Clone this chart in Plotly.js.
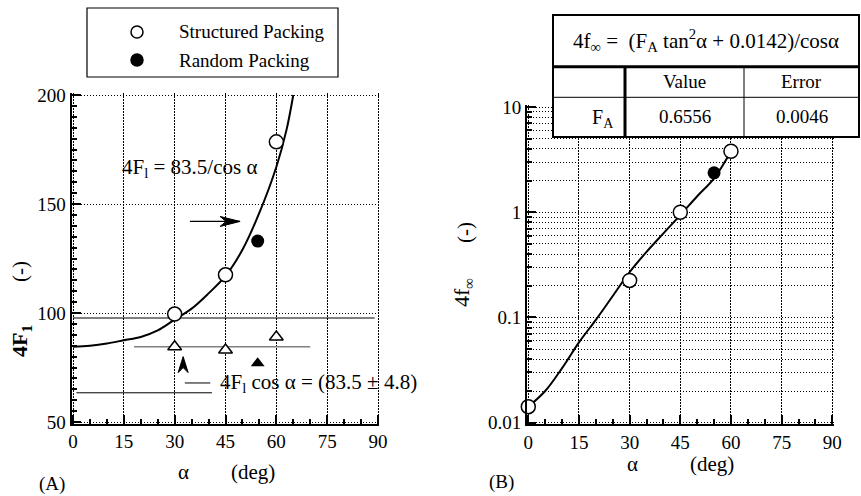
<!DOCTYPE html>
<html>
<head>
<meta charset="utf-8">
<script src="https://cdn.plot.ly/plotly-3.0.1.min.js"></script>
<style>html,body{margin:0;padding:0;background:#fff;}#chart{width:861px;height:496px;}</style>
</head>
<body>
<div id="chart"></div>
<script>
// ---------- DATA ----------
// Panel A : 4F1 vs alpha
const structAlpha = [30, 45, 60];
const structF1 = [99.5, 117.5, 178.5];
const randomAlpha = [54.5];
const randomF1 = [133];
const triOpenAlpha = [30, 45, 60];
const triOpenF1 = [84.5, 83, 89];
const triFilledAlpha = [54.5];
const triFilledF1 = [77];
const fitAAlpha = [0, 5, 10, 15, 20, 25, 30, 35, 40, 45, 50, 55, 60, 63, 65];
const fitAF1 = [84.5, 85, 86, 87.5, 89, 92, 97, 102, 109, 117, 129, 146, 167, 184, 200];
const meanLineAlpha = [18, 70];
const meanLineF1 = [84.5, 84.5];
const upperLineAlpha = [0, 89];
const upperLineF1 = [97.7, 97.7];
const lowerLineAlpha = [1, 41];
const lowerLineF1 = [63.4, 63.4];
const keyLineAlpha = [33, 40.5];
const keyLineF1 = [67.9, 67.9];
const hArrowAlpha = [34.5, 49.3];
const hArrowF1 = [142, 142];
const upArrowAlpha = [32.5];
const upArrowF1 = [80];

// Panel B : 4f_inf vs alpha
const bStructAlpha = [0, 30, 45, 60];
const bStructF = [0.0142, 0.225, 1.0, 3.8];
const bRandomAlpha = [55];
const bRandomF = [2.37];
const fitBAlpha = [0, 5, 10, 15, 20, 25, 30, 35, 40, 45, 50, 55, 60];
const fitBF = [0.0142, 0.02, 0.033, 0.058, 0.095, 0.16, 0.27, 0.42, 0.63, 0.94, 1.42, 2.1, 3.8];

// Tick labels
const xTickVals = [0, 15, 30, 45, 60, 75, 90];
const xTickText = ['0', '15', '30', '45', '60', '75', '90'];
const xMinorVals = [5, 10, 20, 25, 35, 40, 50, 55, 65, 70, 80, 85];
const yATickVals = [50, 100, 150, 200];
const yATickText = ['50', '100', '150', '200'];
const yAMinorVals = [55, 60, 65, 70, 75, 80, 85, 90, 95, 105, 110, 115, 120, 125, 130, 135, 140, 145, 155, 160, 165, 170, 175, 180, 185, 190, 195];
const yBTickVals = [0.01, 0.1, 1, 10];
const yBTickText = ['0.01', '0.1', '1', '10'];
const yBMinorVals = [0.02,0.03,0.04,0.05,0.06,0.07,0.08,0.09,0.2,0.3,0.4,0.5,0.6,0.7,0.8,0.9,2,3,4,5,6,7,8,9];

// Legend / table text
const legendNames = ['Structured Packing', 'Random Packing'];
const tableFormula = '4f<sub>∞</sub> =  (F<sub>A</sub> tan<sup>2</sup>α + 0.0142)/cosα';
const tableHeaders = ['Value', 'Error'];
const tableParam = 'F<sub>A</sub>';
const tableValues = ['0.6556', '0.0046'];

// ---------- LAYOUT HELPERS ----------
const W = 861, H = 496;
const px = v => v / W;
const py = v => 1 - v / H;
const SERIF = "'Liberation Serif', 'Times New Roman', 'DejaVu Serif', serif";
const F = (size) => ({family: SERIF, size: size, color: 'black'});
const tickFont = F(19);
const annFont = F(21);
const gridDash = '1.5px,1.5px';

// map a value range placed at given pixel ends, padded slightly so end grid lines / ticks are kept
function linAxisGeom(v0, v1, p0, p1, pad) {
  const s = (p1 - p0) / (v1 - v0);
  return {range: [v0 - pad, v1 + pad], pix: [p0 - pad * s, p1 + pad * s]};
}
const gA_x = linAxisGeom(0, 90, 73, 378, 0.4);
const gA_y = linAxisGeom(50, 200, 422, 95, 0.7);       // pixels downward
const gB_x = linAxisGeom(0, 90, 528.3, 832.3, 0.4);
const gB_y = linAxisGeom(-2, 1, 422.7, 107, 0.015);

function xAxis(g) {
  return {
    domain: [g.pix[0] / W, g.pix[1] / W], range: g.range,
    tickmode: 'array', tickvals: xTickVals, ticktext: xTickText,
    ticks: 'inside', ticklen: 9, tickwidth: 2, tickcolor: 'black',
    showline: true, linecolor: 'black', linewidth: 2,
    showgrid: true, gridcolor: 'black', gridwidth: 1, griddash: gridDash,
    zeroline: false, tickfont: tickFont, fixedrange: true,
    minor: {tickmode: 'array', tickvals: xMinorVals, ticks: 'inside', ticklen: 5, tickwidth: 2, tickcolor: 'black', showgrid: false}
  };
}

const traces = [];
function sc(x, y, xa, ya, extra) {
  traces.push(Object.assign({x: x, y: y, xaxis: xa, yaxis: ya, type: 'scatter', showlegend: false, hoverinfo: 'skip', cliponaxis: false}, extra));
}
// Panel A traces
sc(upperLineAlpha, upperLineF1, 'x', 'y', {mode: 'lines', line: {color: 'black', width: 1}});
sc(lowerLineAlpha, lowerLineF1, 'x', 'y', {mode: 'lines', line: {color: 'black', width: 1}});
sc(meanLineAlpha, meanLineF1, 'x', 'y', {mode: 'lines', line: {color: '#808080', width: 1.5}});
sc(keyLineAlpha, keyLineF1, 'x', 'y', {mode: 'lines', line: {color: 'black', width: 1}});
sc(hArrowAlpha, hArrowF1, 'x', 'y', {mode: 'lines', line: {color: 'black', width: 1.2}});
sc(fitAAlpha, fitAF1, 'x', 'y', {mode: 'lines', line: {color: 'black', width: 2, shape: 'spline', smoothing: 1}, cliponaxis: true});
sc(structAlpha, structF1, 'x', 'y', {mode: 'markers', marker: {symbol: 'circle', size: 14, color: 'white', line: {color: 'black', width: 1.5}}});
sc(randomAlpha, randomF1, 'x', 'y', {mode: 'markers', marker: {symbol: 'circle', size: 13, color: 'black'}});
sc(triOpenAlpha, triOpenF1, 'x', 'y', {mode: 'markers', marker: {symbol: 'triangle-up', size: 12, color: 'white', line: {color: 'black', width: 1.5}}});
sc(triFilledAlpha, triFilledF1, 'x', 'y', {mode: 'markers', marker: {symbol: 'triangle-up', size: 12, color: 'black'}});
// Panel B traces
sc(fitBAlpha, fitBF, 'x2', 'y2', {mode: 'lines', line: {color: 'black', width: 2, shape: 'spline', smoothing: 1}});
sc(bStructAlpha, bStructF, 'x2', 'y2', {mode: 'markers', marker: {symbol: 'circle', size: 14, color: 'white', line: {color: 'black', width: 1.5}}});
sc(bRandomAlpha, bRandomF, 'x2', 'y2', {mode: 'markers', marker: {symbol: 'circle', size: 13, color: 'black'}});

// ---------- SHAPES ----------
const shapes = [];
// arrowheads (stealth style, drawn in pixels at the data tip)
shapes.push({type: 'path', xref: 'x', yref: 'y', xsizemode: 'pixel', ysizemode: 'pixel',
  xanchor: hArrowAlpha[1], yanchor: hArrowF1[1], path: 'M0,0 L-20,5 L-14,0 L-20,-5 Z',
  fillcolor: 'black', line: {color: 'black', width: 1}, layer: 'above'});
shapes.push({type: 'path', xref: 'x', yref: 'y', xsizemode: 'pixel', ysizemode: 'pixel',
  xanchor: upArrowAlpha[0], yanchor: upArrowF1[0], path: 'M0,0 L-5,-16 L0,-11 L5,-16 Z',
  fillcolor: 'black', line: {color: 'black', width: 1}, layer: 'above'});
// legend box
shapes.push({type: 'rect', xref: 'paper', yref: 'paper', x0: px(87), x1: px(338), y0: py(8), y1: py(77), line: {color: 'black', width: 1.2}, fillcolor: 'white', layer: 'above'});
function pcircle(cx, cy, d, fill) {
  shapes.push({type: 'circle', xref: 'paper', yref: 'paper', xsizemode: 'pixel', ysizemode: 'pixel',
    xanchor: px(cx), yanchor: py(cy), x0: -d / 2, x1: d / 2, y0: -d / 2, y1: d / 2,
    line: {color: 'black', width: 1.5}, fillcolor: fill, layer: 'above'});
}
pcircle(137, 32, 12, 'white');
pcircle(137, 60, 12, 'black');
// table
const T = {l: 553, r: 859, t: 15, b: 137, row1: 66.7, row2: 97.3, col1: 625, col2: 744};
shapes.push({type: 'rect', xref: 'paper', yref: 'paper', x0: px(T.l), x1: px(T.r), y0: py(T.t), y1: py(T.b), line: {color: 'black', width: 2}, fillcolor: 'white', layer: 'above'});
function pline(x0, y0, x1, y1, w) {
  shapes.push({type: 'line', xref: 'paper', yref: 'paper', x0: px(x0), x1: px(x1), y0: py(y0), y1: py(y1), line: {color: 'black', width: w}, layer: 'above'});
}
pline(T.l, T.row1, T.r, T.row1, 3);
pline(T.l, T.row2, T.r, T.row2, 1);
pline(T.col1, T.row1, T.col1, T.b, 3);
pline(T.col2, T.row1, T.col2, T.b, 1);

// ---------- ANNOTATIONS ----------
const ann = [];
function ptext(text, x, y, opts) {
  ann.push(Object.assign({text: text, xref: 'paper', yref: 'paper', x: px(x), y: py(y), showarrow: false, font: annFont, xanchor: 'center', yanchor: 'middle'}, opts || {}));
}
// legend text
ptext(legendNames[0], 177, 32, {xanchor: 'left', font: F(19)});
ptext(legendNames[1], 177, 60, {xanchor: 'left', font: F(19)});
// table text
ptext(tableFormula, (T.l + T.r) / 2, 40, {font: F(21)});
ptext(tableHeaders[0], (T.col1 + T.col2) / 2, 82, {font: F(19)});
ptext(tableHeaders[1], (T.col2 + T.r) / 2, 82, {font: F(19)});
ptext(tableParam, 616, 118, {xanchor: 'right', font: F(20)});
ptext(tableValues[0], (T.col1 + T.col2) / 2, 117, {font: F(19)});
ptext(tableValues[1], (T.col2 + T.r) / 2, 117, {font: F(19)});
// panel A in-plot text
ann.push({text: '4F<sub>l</sub> = 83.5/cos α', xref: 'x', yref: 'y', x: 13.9, y: 166.5, xanchor: 'left', yanchor: 'middle', showarrow: false, font: annFont});
ann.push({text: '4F<sub>l</sub> cos α = (83.5 ± 4.8)', xref: 'x', yref: 'y', x: 42.8, y: 67.9, xanchor: 'left', yanchor: 'middle', showarrow: false, font: annFont});
// axis titles
const titleFont = F(21);
ptext('α', 183, 472, {font: titleFont});
ptext('(deg)', 253, 472, {font: titleFont});
ptext('α', 632, 464, {font: titleFont});
ptext('(deg)', 712, 464, {font: titleFont});
ptext('<b>4F<sub>1</sub></b>', 21, 341, {textangle: -90, font: F(22)});
ptext('(-)', 20, 272, {textangle: -90, font: titleFont});
ptext('4f<sub>∞</sub>', 463, 293, {textangle: -90, font: F(22)});
ptext('(-)', 465, 233, {textangle: -90, font: titleFont});
ptext('(A)', 52, 484, {font: F(19)});
ptext('(B)', 501, 482, {font: F(19)});

const layout = {
  width: W, height: H, margin: {l: 0, r: 0, t: 0, b: 0},
  paper_bgcolor: 'white', plot_bgcolor: 'white', showlegend: false,
  font: {family: SERIF, color: 'black'},
  xaxis: Object.assign(xAxis(gA_x), {anchor: 'y'}),
  yaxis: {
    domain: [(H - gA_y.pix[0]) / H, (H - gA_y.pix[1]) / H], range: gA_y.range, anchor: 'x',
    tickmode: 'array', tickvals: yATickVals, ticktext: yATickText,
    ticks: 'inside', ticklen: 9, tickwidth: 2, tickcolor: 'black',
    showline: true, linecolor: 'black', linewidth: 2,
    showgrid: true, gridcolor: 'black', gridwidth: 1, griddash: gridDash,
    zeroline: false, tickfont: tickFont, fixedrange: true,
    minor: {tickmode: 'array', tickvals: yAMinorVals, ticks: 'inside', ticklen: 5, tickwidth: 2, tickcolor: 'black', showgrid: false}
  },
  xaxis2: Object.assign(xAxis(gB_x), {anchor: 'y2'}),
  yaxis2: {
    type: 'log', domain: [(H - gB_y.pix[0]) / H, (H - gB_y.pix[1]) / H], range: gB_y.range, anchor: 'x2',
    tickmode: 'array', tickvals: yBTickVals, ticktext: yBTickText,
    ticks: 'inside', ticklen: 9, tickwidth: 2, tickcolor: 'black',
    showline: true, linecolor: 'black', linewidth: 2,
    showgrid: true, gridcolor: 'black', gridwidth: 1, griddash: gridDash,
    zeroline: false, tickfont: tickFont, fixedrange: true,
    minor: {tickmode: 'array', tickvals: yBMinorVals, ticks: 'inside', ticklen: 5, tickwidth: 2, tickcolor: 'black',
            showgrid: true, gridcolor: 'black', gridwidth: 1, griddash: gridDash}
  },
  shapes: shapes,
  annotations: ann
};

Plotly.newPlot('chart', traces, layout, {staticPlot: true, displayModeBar: false});
</script>
</body>
</html>
